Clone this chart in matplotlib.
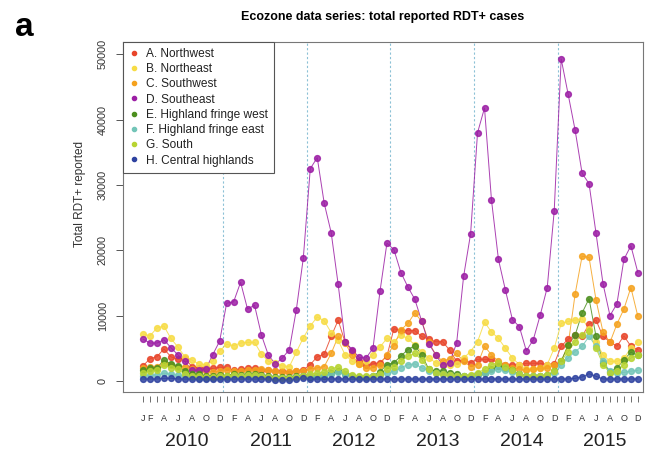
import numpy as np
import matplotlib
matplotlib.use('Agg')
import matplotlib.pyplot as plt
from matplotlib.lines import Line2D
import matplotlib.transforms as mtransforms

plt.rcParams['font.family'] = ['Liberation Sans', 'DejaVu Sans']

# monthly totals, Jan 2010 .. Dec 2015
months = np.arange(1, 73)
years = ['2010', '2011', '2012', '2013', '2014', '2015']
month_letters = ['J', 'F', 'M', 'A', 'M', 'J', 'J', 'A', 'S', 'O', 'N', 'D']

northwest = [2300, 3400, 3700, 4900, 3700, 3300, 3500, 2200, 2000, 2000, 1900, 2100,
             2100, 1600, 1800, 1900, 2000, 1700, 1600, 1500, 1500, 1400, 1500, 1700,
             2500, 3700, 4100, 6800, 9300, 5900, 4600, 3000, 2500, 2600, 2800, 3800,
             8000, 7700, 7700, 7700, 6800, 6400, 6000, 6000, 4700, 3000, 3200, 2800,
             3300, 3300, 3300, 2700, 2500, 2400, 2500, 2700, 2700, 2700, 2500, 2600,
             5300, 6400, 7000, 6800, 8700, 9300, 6800, 6000, 5300, 6900, 5300, 4800]
northeast = [7200, 6900, 8100, 8400, 6500, 5200, 3700, 3200, 2600, 2500, 3000, 4600,
             5600, 5400, 5800, 5900, 5900, 4100, 3000, 2700, 2300, 2200, 4400, 6600,
             8400, 9800, 9200, 7400, 6200, 4000, 3000, 2600, 3000, 4000, 5200, 6500,
             6000, 7000, 6500, 5500, 4500, 3500, 2800, 2500, 2500, 2600, 3500, 4500,
             6000, 9000, 7500, 6500, 5000, 3500, 2500, 1800, 1800, 2000, 2500, 5000,
             8800, 9100, 9300, 9500, 8000, 6000, 4000, 3000, 3000, 3500, 5000, 6000]
southwest = [1900, 2100, 2100, 2700, 2500, 2200, 2200, 1800, 1500, 1500, 1400, 1500,
             1700, 1500, 1500, 1600, 1700, 1800, 1600, 1500, 1400, 1400, 1500, 1500,
             1800, 2000, 2200, 4200, 6800, 5800, 3900, 2600, 1900, 2000, 2500, 4000,
             5400, 7800, 8800, 10400, 9100, 6000, 4000, 3000, 3400, 4200, 3000, 2200,
             2500, 5300, 4000, 3000, 2500, 2000, 1800, 1700, 1800, 1900, 2000, 2500,
             3000, 5500, 13300, 19100, 18900, 12400, 7500, 5900, 8700, 11000, 14300, 9900]
southeast = [6400, 5800, 5800, 6300, 5100, 4000, 3000, 1600, 1600, 1800, 4000, 6100,
             11900, 12100, 15100, 11000, 11600, 7000, 3900, 2600, 3500, 4800, 10900, 18800,
             32500, 34200, 27200, 22700, 14800, 6000, 4800, 3600, 3500, 5000, 13700, 21100,
             20100, 16600, 14400, 12500, 9100, 5700, 4000, 2400, 2800, 5800, 16000, 22500,
             38000, 41800, 27700, 18600, 13900, 9400, 8300, 4600, 6300, 10100, 14300, 26000,
             49300, 43900, 38400, 31800, 30200, 22600, 14900, 10000, 11800, 18600, 20700, 16600]
fringe_west = [1600, 1900, 2000, 3200, 2600, 2300, 1500, 1000, 1000, 800, 800, 900,
               800, 1100, 900, 1000, 1000, 900, 700, 600, 600, 600, 700, 800,
               600, 700, 800, 1200, 1500, 1000, 700, 600, 600, 800, 1400, 2500,
               2800, 3800, 4800, 5400, 4000, 1800, 1500, 1500, 1200, 1000, 800, 700,
               1000, 1200, 1800, 2300, 2000, 1600, 1000, 700, 800, 700, 900, 1500,
               3000, 5500, 7000, 10400, 12600, 6800, 2800, 1400, 2000, 3200, 4400, 3900]
fringe_east = [800, 900, 900, 1200, 1000, 900, 700, 600, 500, 500, 500, 600,
               600, 700, 700, 800, 800, 700, 600, 500, 500, 500, 600, 700,
               700, 800, 900, 1100, 1300, 1000, 800, 600, 600, 700, 900, 1200,
               1500, 2000, 2500, 2600, 2000, 1500, 1200, 1000, 900, 800, 700, 700,
               900, 1200, 1500, 1800, 1600, 1300, 1000, 800, 700, 700, 800, 1200,
               2500, 3500, 4500, 5300, 6800, 5300, 3000, 1500, 1200, 1300, 1500, 1600]
south = [1200, 1500, 1600, 2400, 2000, 1800, 1000, 800, 700, 600, 600, 700,
         700, 900, 800, 900, 900, 800, 600, 500, 500, 500, 600, 800,
         1000, 1200, 1300, 1800, 2200, 1500, 900, 700, 700, 800, 1100, 1800,
         2200, 3000, 3800, 4200, 3200, 1800, 1200, 1000, 900, 800, 800, 900,
         1200, 1800, 2500, 2800, 2200, 1600, 1000, 800, 700, 700, 900, 1500,
         3000, 4500, 6000, 7000, 7700, 5000, 2500, 1200, 1500, 2500, 3500, 4000]
central = [300, 300, 300, 400, 400, 300, 300, 300, 300, 300, 300, 300,
           300, 300, 300, 300, 300, 300, 300, 200, 200, 200, 300, 400,
           300, 300, 300, 300, 300, 300, 300, 300, 300, 300, 300, 300,
           300, 300, 300, 300, 300, 300, 300, 300, 300, 300, 300, 300,
           300, 300, 300, 300, 300, 300, 300, 300, 300, 300, 300, 300,
           300, 300, 400, 600, 1100, 700, 300, 300, 300, 300, 300, 300]

series = [northwest, northeast, southwest, southeast, fringe_west, fringe_east, south, central]
labels = ['A. Northwest', 'B. Northeast', 'C. Southwest', 'D. Southeast',
          'E. Highland fringe west', 'F. Highland fringe east', 'G. South',
          'H. Central highlands']
colors = ['#E8452A', '#F7DC45', '#F5A21E', '#9C1FA5', '#4C8F1E', '#73C5B8', '#B8D432', '#2E42A0']

fig = plt.figure(figsize=(6.45, 4.59), dpi=100)
ax = fig.add_axes([123 / 645, 67 / 459, 520 / 645, 350 / 459])

for vals, col in zip(series, colors):
    ax.plot(months, vals, '-', color=col, lw=0.7, alpha=0.85)
    ax.plot(months, vals, 'o', color=col, ms=4.2, mec=col, alpha=0.85, zorder=3)

# year boundaries
for xb in [12.5, 24.5, 36.5, 48.5, 60.5]:
    ax.axvline(xb, color='#8CC1D6', lw=0.8, ls=(0, (2, 2)), zorder=1)

ax.set_xlim(-1.87, 72.74)
ax.set_ylim(-1700, 51900)
ax.set_yticks([0, 10000, 20000, 30000, 40000, 50000])
ax.set_yticklabels(['0', '10000', '20000', '30000', '40000', '50000'],
                   rotation=90, va='center', fontsize=7.8, color='#333333')
ax.tick_params(axis='y', length=5, width=0.7, color='#555555', pad=6)
ax.set_xticks([])
for s in ax.spines.values():
    s.set_color('#777777')
    s.set_linewidth(0.8)

ax.set_ylabel('Total RDT+ reported', fontsize=8.5, color='#333333')
ax.yaxis.set_label_coords(-0.072, 0.565)

# month ticks sit just under the box; crowded letters are left out
sec = ax.secondary_xaxis(-0.012)
sec.spines['bottom'].set_visible(False)
tick_text = []
for m in months:
    k = (m - 1) % 12
    if m == 1 or (k in {1, 3, 5, 7, 9, 11}):
        tick_text.append(month_letters[k])
    else:
        tick_text.append('')
sec.set_xticks(months)
sec.set_xticklabels(tick_text, fontsize=6.5, color='#333333')
sec.tick_params(axis='x', length=4, width=0.6, color='#555555', pad=9)

trans = mtransforms.blended_transform_factory(ax.transData, ax.transAxes)
for k, yr in enumerate(years):
    ax.text(7.3 + 12 * k, -0.14, yr, transform=trans, ha='center', va='center',
            fontsize=14, color='#222222')

handles = [Line2D([], [], ls='none', marker='o', ms=3, color=c, mec=c) for c in colors]
leg = ax.legend(handles, labels, loc='upper left', fontsize=8.6, frameon=True,
                fancybox=False, borderpad=0.5, handlelength=0.8, handletextpad=0.6,
                labelspacing=0.27, borderaxespad=0)
leg.get_frame().set_edgecolor('#555555')
leg.get_frame().set_linewidth(0.8)
leg.get_frame().set_alpha(1)
for t in leg.get_texts():
    t.set_color('#222222')

ax.set_title('Ecozone data series: total reported RDT+ cases', fontsize=9,
             fontweight='bold', pad=16)
fig.text(15 / 645, 1 - 27 / 459, 'a', fontsize=24, fontweight='bold', va='center')

fig.savefig('out.png', dpi=100)
